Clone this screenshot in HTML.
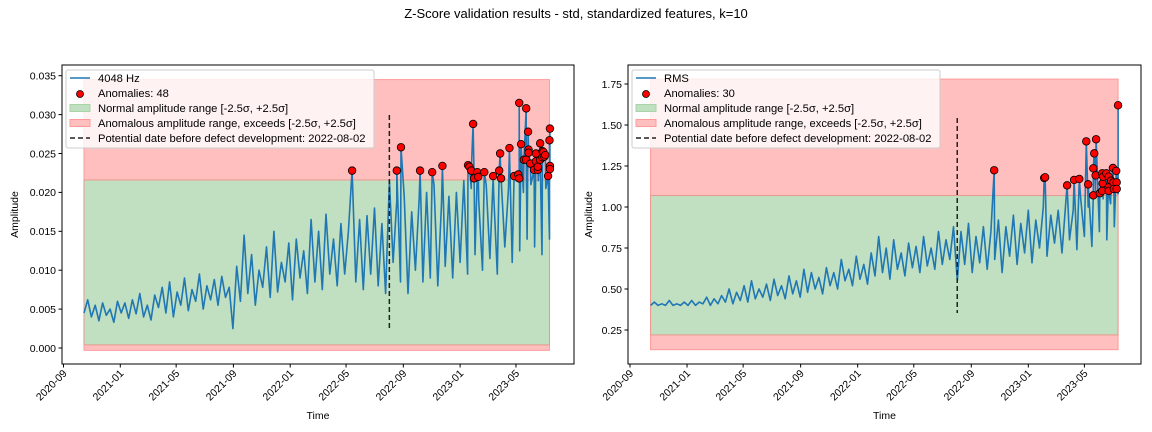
<!DOCTYPE html>
<html><head><meta charset="utf-8"><style>
body{margin:0;background:#fff;}
svg{display:block;font-family:"Liberation Sans","DejaVu Sans",sans-serif;}
</style></head><body>
<svg id="fig" width="1152" height="432" xmlns="http://www.w3.org/2000/svg">
<text x="576" y="18" text-anchor="middle" font-size="13">Z-Score validation results - std, standardized features, k=10</text>
</svg>
<script>
// shared x axis (days since 2020-09-01)
const xTickLabels = ["2020-09","2021-01","2021-05","2021-09","2022-01","2022-05","2022-09","2023-01","2023-05"];
const xTickDays = [0,122,242,365,487,607,730,852,972];
const seriesStartDay = 44, seriesStepDays = 8;
const defectDay = 700;

// left chart: 4048 Hz
const leftValues = [
.0045,.0062,.0040,.0055,.0035,.0058,.0042,.0050,.0033,.0060,
.0045,.0058,.0038,.0062,.0044,.0070,.0040,.0055,.0036,.0068,
.0052,.0078,.0045,.0085,.0040,.0072,.0055,.0090,.0048,.0075,
.0060,.0095,.0050,.0080,.0062,.0088,.0055,.0092,.0065,.0078,
.0025,.0105,.0060,.0145,.0070,.0120,.0055,.0100,.0078,.0130,
.0065,.0150,.0072,.0110,.0085,.0135,.0062,.0140,.0090,.0125,
.0070,.0165,.0085,.0150,.0075,.0172,.0095,.0140,.0080,.0160,
.0095,.0150,.0228,.0085,.0165,.0075,.0170,.0095,.0180,.0080,
.0160,.0070,.0215,.0110,.0190,.0085,.0195,.0070,.0175,.0100,
.0190,.0085,.0200,.0090,.0210,.0080,.0185,.0105,.0195,.0090,
.0200,.0110,.0215,.0095,.0205,.0120,.0190,.0100,.0210,.0115,
.0200,.0095,.0215,.0130,.0205,.0110,.0215,.0125,.0200,.0140,
.0210,.0130,.0215,.0120,.0205,.0140];
const leftAnomDays = [620,716,725,766,792,814,869,872,876,880,882,889,891,904,923,936,938,940,958,968,977,979,979,983,989,994,994,998,999,999,1003,1011,1015,1015,1019,1019,1024,1024,1029,1029,1031,1033,1035,1041,1044,1045,1045,1045];
const leftAnomVals = [.0228,.0228,.0258,.0228,.0226,.0234,.0235,.0233,.0228,.0288,.0218,.0226,.0220,.0226,.0221,.0228,.0250,.0218,.0257,.0221,.0223,.0218,.0315,.0262,.0242,.0308,.0242,.0278,.0255,.0251,.0237,.0229,.0250,.0240,.0229,.0233,.0263,.0242,.0253,.0245,.0252,.0246,.0248,.0221,.0267,.0282,.0234,.0230];
const leftBands = [-0.0003,0.0004,0.0216,0.0345]; // red low, green low, green high, red high
const leftYTicks = [0,0.005,0.010,0.015,0.020,0.025,0.030,0.035];

// right chart: RMS
const rightValues = [
.40,.42,.40,.41,.40,.43,.40,.41,.40,.42,
.40,.43,.40,.42,.41,.45,.40,.44,.41,.46,
.42,.50,.41,.48,.43,.52,.42,.55,.44,.50,
.45,.53,.43,.56,.46,.52,.44,.58,.47,.55,
.45,.62,.48,.60,.50,.57,.47,.63,.52,.60,
.50,.68,.55,.62,.52,.70,.56,.65,.53,.72,
.58,.82,.60,.75,.56,.80,.62,.72,.58,.78,
.63,.76,.60,.82,.64,.75,.62,.85,.65,.80,
.68,.88,.55,.85,.65,.90,.60,.82,.66,.88,
.62,.85,.68,.92,.60,.88,.70,.95,.65,.90,
.72,.98,.66,.92,.75,1.0,.70,.95,.78,.98,
.72,1.02,.80,.98,.74,1.05,.82,1.0,.76,1.06,
.85,1.05,.80,1.02,.88,1.08];
const rightAnomDays = [779,886,888,935,950,961,976,980,991,991,993,996,997,1005,1010,1010,1011,1012,1019,1024,1024,1024,1029,1033,1034,1035,1040,1041,1041,1044];
const rightAnomVals = [1.224,1.177,1.181,1.132,1.165,1.171,1.400,1.138,1.071,1.236,1.327,1.193,1.413,1.084,1.205,1.098,1.144,1.185,1.205,1.185,1.120,1.098,1.160,1.238,1.150,1.110,1.220,1.150,1.110,1.620];
const rightBands = [0.13,0.22,1.07,1.78];
const rightYTicks = [0.25,0.50,0.75,1.00,1.25,1.50,1.75];

const NS="http://www.w3.org/2000/svg";
const fig=document.getElementById('fig');
function mk(tag,attrs,parent){const e=document.createElementNS(NS,tag);for(const k in attrs)e.setAttribute(k,attrs[k]);(parent||fig).appendChild(e);return e;}

function chart(cfg){
  const g=mk('g',{});
  
  
  const L=cfg.left,R=cfg.right,T=65,B=364;
  const xs=d=>cfg.x0+d*cfg.pxDay;
  const ys=v=>cfg.yBase-(v-cfg.yBaseVal)*cfg.pxUnit;
  const d0=seriesStartDay, d1=seriesStartDay+seriesStepDays*(cfg.values.length-1);
  const rb=mk('rect',{x:xs(d0),y:ys(cfg.bands[3]),width:xs(d1)-xs(d0),height:ys(cfg.bands[0])-ys(cfg.bands[3]),fill:'#ffbfbf',stroke:'#ff9a9a','stroke-width':1},g);
  
  
  const gb=mk('rect',{x:xs(d0),y:ys(cfg.bands[2]),width:xs(d1)-xs(d0),height:ys(cfg.bands[1])-ys(cfg.bands[2]),fill:'#c1dfc1',stroke:'#e89a8c','stroke-width':1},g);
  
  
  const pts=cfg.values.map((v,i)=>[d0+seriesStepDays*i,v]);
  cfg.aDays.forEach((d,i)=>pts.push([d,cfg.aVals[i]]));
  pts.sort((a,b)=>a[0]-b[0]);
  const ln=mk('polyline',{points:pts.map(p=>xs(p[0]).toFixed(1)+','+ys(p[1]).toFixed(1)).join(' '),fill:'none',stroke:'#1f77b4','stroke-width':1.6,'stroke-linejoin':'round'},g);
  
  
  const vl=mk('line',{x1:xs(defectDay),x2:xs(defectDay),y1:cfg.vTop,y2:cfg.vBot,stroke:'#222','stroke-width':1.5,'stroke-dasharray':'5,3'},g);
  
  
  cfg.aDays.forEach((d,i)=>{
    const c=mk('circle',{cx:xs(d),cy:ys(cfg.aVals[i]),r:3.8,fill:'#ff0000',stroke:'#000','stroke-width':0.8},g);
    
    
  });
  const fr=mk('rect',{x:L,y:T,width:R-L,height:B-T,fill:'none',stroke:'#000','stroke-width':1},g);
  
  
  cfg.yTicks.forEach(v=>{
    const y=ys(v);
    mk('line',{x1:L-3.5,x2:L,y1:y,y2:y,stroke:'#000'},g);
    const t=mk('text',{x:L-6,y:y+3.8,'text-anchor':'end','font-size':10.5},g);
    t.textContent=cfg.yFmt(v);
    
    
  });
  xTickDays.forEach((d,i)=>{
    const x=xs(d);
    mk('line',{x1:x,x2:x,y1:B,y2:B+3.5,stroke:'#000'},g);
    const t=mk('text',{x:x+4,y:B+10,'text-anchor':'end','font-size':10.5,transform:`rotate(-45 ${x+4} ${B+10})`},g);
    t.textContent=xTickLabels[i];
    
    
  });
  const yl=mk('text',{x:cfg.yLabelX,y:(T+B)/2,'text-anchor':'middle','font-size':10.5,transform:`rotate(-90 ${cfg.yLabelX} ${(T+B)/2})`},g);
  yl.textContent='Amplitude';
  
  
  const xl=mk('text',{x:(L+R)/2,y:419,'text-anchor':'middle','font-size':10.5},g);
  xl.textContent='Time';
  
  
  const lg=mk('g',{},g);
  
  
  const lx=L+4;
  mk('rect',{x:lx,y:70,width:308,height:78,rx:2,fill:'#fff','fill-opacity':0.8,stroke:'#ccc'},lg);
  const labels=[cfg.seriesLabel,'Anomalies: '+cfg.aDays.length,'Normal amplitude range [-2.5σ, +2.5σ]','Anomalous amplitude range, exceeds [-2.5σ, +2.5σ]','Potential date before defect development: 2022-08-02'];
  labels.forEach((s,i)=>{
    const y=78+i*15;
    if(i===0) mk('line',{x1:lx+4,x2:lx+24,y1:y,y2:y,stroke:'#1f77b4','stroke-width':1.5},lg);
    if(i===1) mk('circle',{cx:lx+14,cy:y+1,r:3.5,fill:'#ff0000',stroke:'#000','stroke-width':0.8},lg);
    if(i===2) mk('rect',{x:lx+4,y:y-3.5,width:20,height:7,fill:'#c1dfc1',stroke:'#a8d4a8'},lg);
    if(i===3) mk('rect',{x:lx+4,y:y-3.5,width:20,height:7,fill:'#ffbfbf',stroke:'#ff9a9a'},lg);
    if(i===4) mk('line',{x1:lx+4,x2:lx+24,y1:y,y2:y,stroke:'#222','stroke-width':1.5,'stroke-dasharray':'5,3'},lg);
    const t=mk('text',{x:lx+32,y:y+4,'font-size':11.2},lg);
    t.textContent=s;
    
    
  });
}

chart({name:'left-chart-4048hz',left:62,right:574,x0:63.5,pxDay:0.4655,yBase:348,yBaseVal:0,pxUnit:7780,
  values:leftValues,aDays:leftAnomDays,aVals:leftAnomVals,bands:leftBands,yTicks:leftYTicks,
  yFmt:v=>v.toFixed(3),yLabelX:18,vTop:115,vBot:331,seriesLabel:'4048 Hz'});
chart({name:'right-chart-rms',left:628,right:1141,x0:630,pxDay:0.4675,yBase:330,yBaseVal:0.25,pxUnit:164,
  values:rightValues,aDays:rightAnomDays,aVals:rightAnomVals,bands:rightBands,yTicks:rightYTicks,
  yFmt:v=>v.toFixed(2),yLabelX:592,vTop:118,vBot:313,seriesLabel:'RMS'});
</script>
</body></html>
